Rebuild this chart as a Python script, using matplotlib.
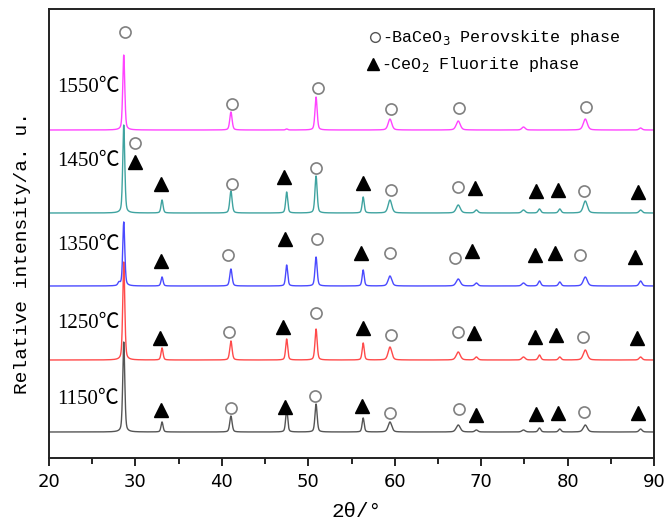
import numpy as np
import matplotlib
matplotlib.use("Agg")
import matplotlib.pyplot as plt
from matplotlib.ticker import MultipleLocator

# peak positions (2theta, deg) shared by all patterns, and their widths (FWHM, deg)
peak_pos = [28.1, 28.65, 33.08, 41.05, 47.5, 50.9, 56.35, 59.45, 67.35, 69.45, 74.9, 76.75, 79.1, 82.05, 88.45]
peak_fwhm = [0.3, 0.28, 0.28, 0.32, 0.28, 0.3, 0.28, 0.5, 0.55, 0.4, 0.45, 0.35, 0.35, 0.55, 0.4]

temps = ["1150℃", "1250℃", "1350℃", "1450℃", "1550℃"]
colors = ["#555555", "#ff4a4a", "#4a4aff", "#3fa3a0", "#ff44ff"]
offsets = [26, 98, 172, 245, 328]

# relative peak heights per sample (a.u.), same order as peak_pos
h_1150 = [0, 90, 10, 16, 23, 28, 14, 10, 7, 2, 2, 4, 3, 7, 3]
h_1250 = [0, 98, 12, 19, 21, 31, 17, 13, 8, 3, 3, 5, 3, 10, 3]
h_1350 = [3, 64, 9, 17, 21, 29, 16, 10, 7, 3, 3, 5, 4, 9, 5]
h_1450 = [0, 88, 13, 22, 21, 37, 16, 13, 8, 3, 3, 4, 4, 12, 3]
h_1550 = [0, 75, 0, 18, 1, 33, 0, 11, 9, 0, 3, 0, 0, 11, 2]
heights = [h_1150, h_1250, h_1350, h_1450, h_1550]

# marker annotations: (2theta, height) per sample
circ_1150 = [(41.06, 50), (50.8, 62), (59.45, 45), (67.4, 49), (81.9, 46)]
tri_1150 = [(33.0, 48), (47.3, 51), (56.2, 52), (69.4, 43), (76.4, 44), (78.9, 45), (88.2, 45)]
circ_1250 = [(40.86, 126), (50.9, 145), (59.57, 123), (67.3, 126), (81.8, 121)]
tri_1250 = [(32.9, 120), (47.1, 131), (56.3, 130), (69.2, 125), (76.2, 121), (78.7, 123), (88.0, 120)]
circ_1350 = [(40.75, 203), (51.0, 219), (59.5, 205), (67.0, 200), (81.4, 203)]
tri_1350 = [(33.0, 197), (47.3, 219), (56.1, 205), (69.0, 207), (76.2, 203), (78.6, 205), (87.8, 201)]
circ_1450 = [(29.95, 315), (41.2, 274), (50.9, 290), (59.6, 268), (67.3, 271), (81.9, 267)]
tri_1450 = [(30.0, 296), (33.0, 274), (47.2, 281), (56.3, 275), (69.3, 270), (76.4, 267), (78.9, 268), (88.2, 266)]
circ_1550 = [(28.8, 426), (41.2, 354), (51.1, 370), (59.6, 349), (67.4, 350), (82.1, 351)]
circles = circ_1150 + circ_1250 + circ_1350 + circ_1450 + circ_1550
triangles = tri_1150 + tri_1250 + tri_1350 + tri_1450

label_y = [58, 135, 212, 296, 371]


def pattern(x, heights_row):
    # pseudo-Voigt peaks, half Lorentzian half Gaussian
    y = np.zeros_like(x)
    for c, w, h in zip(peak_pos, peak_fwhm, heights_row):
        g = (w / 2) ** 2
        lor = g / ((x - c) ** 2 + g)
        gau = np.exp(-4 * np.log(2) * (x - c) ** 2 / w ** 2)
        y += h * (0.4 * lor + 0.6 * gau)
    return y


fig = plt.figure(figsize=(6.65, 5.26), dpi=100)
ax = fig.add_axes([49 / 665, 68 / 526, 605 / 665, 449 / 526])

x = np.linspace(20, 90, 4000)
for i in range(len(temps)):
    ax.plot(x, offsets[i] + pattern(x, heights[i]), color=colors[i], lw=1.0)
    ax.text(20.9, label_y[i], temps[i], fontsize=15, va="center",
            family=["Liberation Serif", "Noto Sans CJK SC"])

cx, cy = zip(*circles)
ax.plot(cx, cy, "o", ms=8, mfc="white", mec="#808080", mew=1.2, ls="none")
tx, ty = zip(*triangles)
ax.plot(tx, ty, "^", ms=10, color="black", ls="none")

# legend written as text with markers
ax.plot([0.539], [0.9376], "o", ms=7, mfc="white", mec="#555555", mew=1.0,
        transform=ax.transAxes, clip_on=False)
ax.text(0.551, 0.9376, "-BaCeO$_3$ Perovskite phase", transform=ax.transAxes,
        fontsize=12, va="center", family="Liberation Mono")
ax.plot([0.5355], [0.8775], "^", ms=8, color="black",
        transform=ax.transAxes, clip_on=False)
ax.text(0.548, 0.8775, "-CeO$_2$ Fluorite phase", transform=ax.transAxes,
        fontsize=12, va="center", family="Liberation Mono")

ax.set_xlim(20, 90)
ax.set_ylim(0, 449)
ax.xaxis.set_major_locator(MultipleLocator(10))
ax.xaxis.set_minor_locator(MultipleLocator(5))
ax.tick_params(axis="x", which="major", direction="out", length=6, width=1.2,
               labelsize=13, pad=5)
ax.tick_params(axis="x", which="minor", direction="out", length=4, width=1.2)
ax.set_yticks([])
for s in ax.spines.values():
    s.set_linewidth(1.4)
    s.set_color("#222222")

ax.set_xlabel("2θ/°", fontsize=15, family="Liberation Mono")
ax.xaxis.set_label_coords(0.509, -0.12)
ax.set_ylabel("Relative intensity/a. u.", fontsize=14, family="Liberation Mono")
ax.yaxis.set_label_coords(-0.044, 0.457)
ax.xaxis.label.set_va("center")
ax.yaxis.label.set_va("center")

fig.savefig("out.png", dpi=100)
